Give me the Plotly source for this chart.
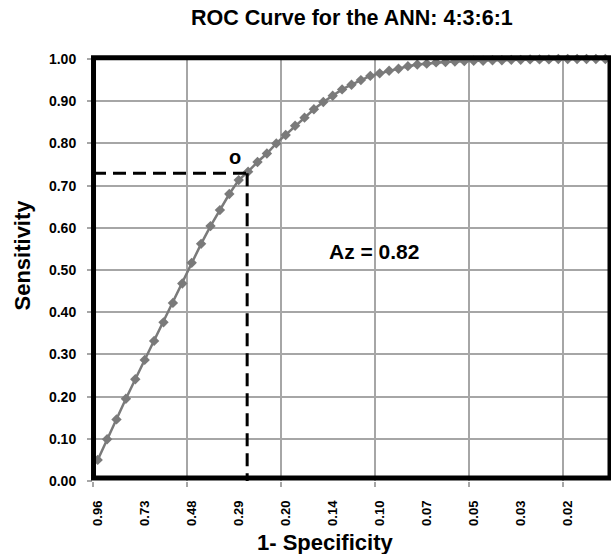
import plotly.graph_objects as go

# ---- data ----
sensitivity = [0.050, 0.099, 0.146, 0.195, 0.241, 0.287, 0.332, 0.376, 0.422, 0.468,
               0.517, 0.562, 0.604, 0.642, 0.680, 0.713, 0.733, 0.756, 0.776, 0.800,
               0.820, 0.842, 0.861, 0.881, 0.898, 0.913, 0.928, 0.939, 0.950, 0.960,
               0.966, 0.972, 0.977, 0.983, 0.987, 0.989, 0.992, 0.993, 0.994, 0.995,
               0.996, 0.996, 0.997, 0.997, 0.998, 0.998, 0.999, 0.999, 0.999, 1.000,
               1.000, 1.000, 1.000, 1.000, 1.000]
tick_labels = ["0.96", "0.73", "0.48", "0.29", "0.20", "0.14", "0.10", "0.07", "0.05", "0.03", "0.02"]
label_step = 5          # one label every 5 categories
grid_step = 10          # one vertical gridline every 10 categories
op_x, op_y = 15.9, 0.729   # operating point (dashed lines)
o_x, o_y = 14.64, 0.768     # "o" mark
az_text = "Az = 0.82"

idx = list(range(len(sensitivity)))
n = len(sensitivity)
tick_pos = [i * label_step for i in range(len(tick_labels))]
grid_pos = [g - 0.5 for g in range(0, n, grid_step)]

FONT = "Arial"
GRAY = "#7a7a7a"
GRID = "#a6a6a6"

fig = go.Figure()
fig.add_trace(go.Scatter(
    x=idx, y=sensitivity, mode="lines+markers",
    line=dict(color=GRAY, width=2.5),
    marker=dict(symbol="diamond", size=8, color=GRAY),
    cliponaxis=False, hoverinfo="skip"))

fig.update_layout(
    width=611, height=554,
    margin=dict(l=92.5, r=1, t=58.75, b=73, pad=0),
    paper_bgcolor="white", plot_bgcolor="white",
    showlegend=False,
    xaxis=dict(
        range=[-0.5, n - 0.5], tickmode="array", tickvals=tick_pos, ticktext=tick_labels,
        tickangle=-90, ticks="", showgrid=False, zeroline=False, showline=False,
        tickfont=dict(family=FONT, size=13, color="black", weight="bold"),
        ticklabelstandoff=16, automargin=False,
        minor=dict(tickmode="array", tickvals=grid_pos, showgrid=True, gridcolor=GRID,
                   gridwidth=1.5, ticks="outside", ticklen=5, tickcolor=GRID, tickwidth=1.5),
    ),
    yaxis=dict(
        range=[0, 1], tickmode="linear", tick0=0, dtick=0.1, tickformat=".2f",
        showgrid=True, gridcolor=GRID, gridwidth=1.5, zeroline=False, showline=False,
        ticks="outside", ticklen=5, tickcolor=GRID, tickwidth=1.5,
        tickfont=dict(family=FONT, size=14, color="black", weight="bold"),
        ticklabelstandoff=8, automargin=False,
    ),
)

dash = "13px,7px"
fig.add_shape(type="line", xref="x", yref="y", x0=-0.5, x1=op_x, y0=op_y, y1=op_y,
              line=dict(color="black", width=3, dash=dash))
fig.add_shape(type="line", xref="x", yref="y", x0=op_x, x1=op_x, y0=op_y, y1=0,
              line=dict(color="black", width=3, dash=dash))
fig.add_shape(type="rect", xref="paper", yref="paper", x0=0.001, x1=1.0, y0=0.007, y1=1.003,
              line=dict(color="black", width=5), fillcolor="rgba(0,0,0,0)")

def ann(text, x, y, size, xref="paper", yref="paper", angle=0):
    fig.add_annotation(text=text, x=x, y=y, xref=xref, yref=yref, showarrow=False,
                       xanchor="center", yanchor="middle", textangle=angle,
                       font=dict(family=FONT, size=size, color="black", weight="bold"))

ann("ROC Curve for the ANN: 4:3:6:1", 0.5, 1.096, 21.5)
ann("1- Specificity", 0.449, -0.1456, 22)
ann("Sensitivity", -0.1368, 0.535, 22, angle=-90)
ann(az_text, 0.544, 0.543, 21)
ann("o", o_x, o_y, 20, xref="x", yref="y")

fig.write_html("out.html")
